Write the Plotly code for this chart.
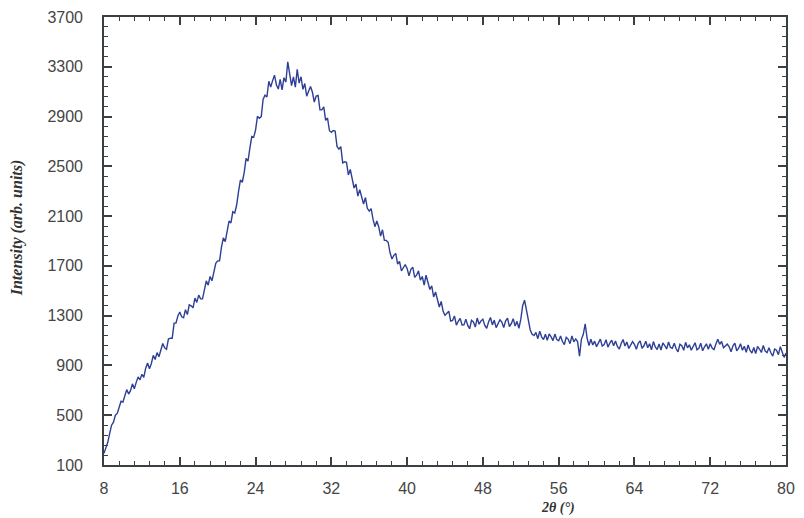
import numpy as np
import plotly.graph_objects as go

# Diffraction pattern, 2θ from 8° to 80° in 0.2° steps
two_theta = np.round(np.arange(8.0, 80.0001, 0.2), 1)

intensity = [
    # 8.0 - 9.8
    194, 232, 282, 354, 420, 444, 500, 514, 563, 612,
    # 10.0 - 11.8
    606, 662, 706, 670, 697, 752, 712, 764, 808, 784,
    # 12.0 - 13.8
    829, 804, 878, 920, 873, 916, 981, 948, 1003, 970,
    # 14.0 - 15.8
    1017, 1076, 1042, 1030, 1112, 1119, 1119, 1240, 1241, 1298,
    # 16.0 - 17.8
    1330, 1291, 1284, 1348, 1309, 1387, 1379, 1363, 1441, 1407,
    # 18.0 - 19.8
    1465, 1435, 1435, 1515, 1580, 1545, 1615, 1580, 1650, 1720,
    # 20.0 - 21.8
    1740, 1740, 1850, 1925, 1895, 1965, 2060, 2045, 2135, 2125,
    # 22.0 - 23.8
    2187, 2297, 2390, 2372, 2449, 2564, 2541, 2646, 2739, 2733,
    # 24.0 - 25.8
    2792, 2902, 2886, 2900, 3040, 3072, 3058, 3184, 3138, 3189,
    # 26.0 - 27.8
    3233, 3156, 3121, 3198, 3114, 3212, 3177, 3340, 3226, 3149,
    # 28.0 - 29.8
    3219, 3137, 3280, 3169, 3220, 3119, 3165, 3064, 3103, 3142,
    # 30.0 - 31.8
    3097, 3017, 3064, 3069, 2954, 2954, 2978, 2870, 2888, 2786,
    # 32.0 - 33.8
    2774, 2788, 2784, 2660, 2638, 2658, 2528, 2536, 2532, 2431,
    # 34.0 - 35.8
    2475, 2384, 2326, 2357, 2261, 2313, 2261, 2197, 2249, 2163,
    # 36.0 - 37.8
    2140, 2160, 2075, 2015, 2060, 2015, 1940, 1990, 1905, 1905,
    # 38.0 - 39.8
    1890, 1805, 1755, 1785, 1800, 1715, 1737, 1660, 1685, 1710,
    # 40.0 - 41.8
    1680, 1620, 1672, 1690, 1608, 1625, 1660, 1585, 1615, 1545,
    # 42.0 - 43.8
    1625, 1555, 1510, 1540, 1450, 1490, 1435, 1370, 1415, 1335,
    # 44.0 - 45.8
    1303, 1324, 1336, 1257, 1261, 1298, 1224, 1255, 1278, 1225,
    # 46.0 - 47.8
    1226, 1272, 1222, 1195, 1263, 1249, 1208, 1281, 1231, 1258,
    # 48.0 - 49.8
    1272, 1222, 1199, 1249, 1285, 1226, 1263, 1204, 1235, 1267,
    # 50.0 - 51.8
    1249, 1204, 1258, 1281, 1213, 1235, 1276, 1217, 1254, 1199,
    # 52.0 - 53.8
    1270, 1380, 1425, 1340, 1250, 1185, 1150, 1140, 1165, 1115,
    # 54.0 - 55.8
    1176, 1130, 1108, 1150, 1102, 1154, 1130, 1100, 1152, 1108,
    # 56.0 - 57.8
    1098, 1137, 1092, 1068, 1126, 1112, 1075, 1137, 1090, 1113,
    # 58.0 - 59.8
    1090, 975, 1110, 1150, 1235, 1120, 1060, 1110, 1065, 1095,
    # 60.0 - 61.8
    1051, 1087, 1111, 1055, 1067, 1107, 1047, 1079, 1103, 1059,
    # 62.0 - 63.8
    1096, 1052, 1032, 1076, 1108, 1056, 1088, 1036, 1064, 1092,
    # 64.0 - 65.8
    1070, 1030, 1078, 1098, 1038, 1058, 1094, 1042, 1074, 1026,
    # 66.0 - 67.8
    1092, 1048, 1028, 1072, 1024, 1080, 1060, 1032, 1088, 1044,
    # 68.0 - 69.8
    1038, 1078, 1034, 1010, 1070, 1058, 1022, 1086, 1042, 1066,
    # 70.0 - 71.8
    1022, 1058, 1082, 1026, 1038, 1078, 1018, 1050, 1074, 1030,
    # 72.0 - 73.8
    1075, 1040, 1028, 1072, 1110, 1070, 1093, 1042, 1056, 1071,
    # 74.0 - 75.8
    1050, 1010, 1058, 1078, 1018, 1038, 1074, 1022, 1054, 1006,
    # 76.0 - 77.8
    1064, 1020, 1000, 1044, 996, 1052, 1032, 1004, 1060, 1016,
    # 78.0 - 79.8
    1003, 1043, 1002, 975, 1031, 1023, 987, 1051, 1008, 965,
    # 80.0
    1000,
]

x_ticks = [8, 16, 24, 32, 40, 48, 56, 64, 72, 80]
y_ticks = [100, 500, 900, 1300, 1700, 2100, 2500, 2900, 3300, 3700]

line_color = "#2e3f96"
axis_color = "#3a3f44"
tick_font = dict(family="Liberation Sans, Arial, sans-serif", size=16, color="#454545")
title_font = dict(family="Liberation Serif, Times New Roman, serif", size=16, color="#333333")

fig = go.Figure(
    go.Scatter(
        x=two_theta,
        y=intensity,
        mode="lines",
        line=dict(color=line_color, width=1.4),
        hoverinfo="skip",
    )
)

axis_common = dict(
    showline=True,
    linecolor=axis_color,
    linewidth=1.6,
    mirror="ticks",
    ticks="inside",
    ticklen=8,
    tickwidth=1.6,
    tickcolor=axis_color,
    showgrid=False,
    zeroline=False,
    tickfont=tick_font,
)

fig.update_xaxes(
    range=[8, 80],
    tickvals=x_ticks,
    ticklabelstandoff=8,
    minor=dict(tickvals=[round(8 + 1.6 * i, 1) for i in range(46)], ticklen=4,
               tickwidth=1.2, tickcolor=axis_color, ticks="inside"),
    **axis_common,
)
fig.update_yaxes(
    range=[100, 3700],
    tickvals=y_ticks,
    ticklabelstandoff=16,
    minor=dict(tickvals=list(range(100, 3701, 80)), ticklen=4,
               tickwidth=1.2, tickcolor=axis_color, ticks="inside"),
    **axis_common,
)

fig.add_annotation(
    text="<b><i>Intensity (arb. units)</i></b>",
    xref="paper", yref="paper", x=-0.128, y=0.53,
    textangle=-90, showarrow=False, font=title_font,
    xanchor="center", yanchor="middle",
)
fig.add_annotation(
    text="<b><i>2θ (°)</i></b>",
    xref="paper", yref="paper", x=0.665, y=-0.097,
    showarrow=False, font=dict(title_font, size=14),
    xanchor="center", yanchor="middle",
)

fig.update_layout(
    width=804,
    height=518,
    margin=dict(l=104, r=9, t=17, b=53),
    paper_bgcolor="white",
    plot_bgcolor="white",
    showlegend=False,
)

fig.write_html("out.html")
